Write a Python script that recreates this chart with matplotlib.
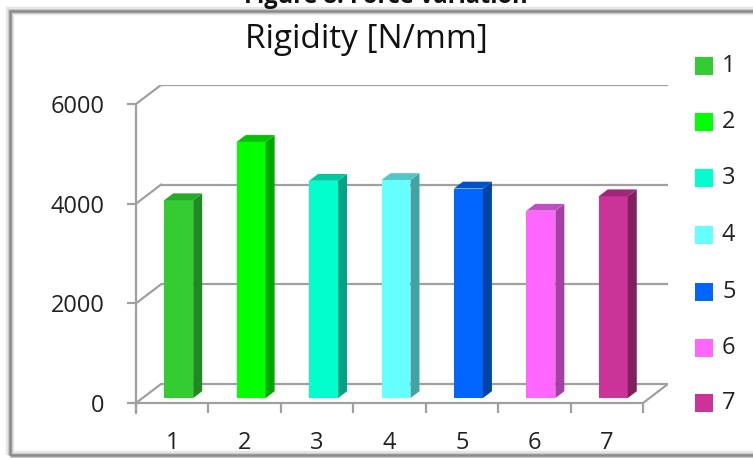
import matplotlib
matplotlib.use("Agg")
import matplotlib.pyplot as plt
from matplotlib.patches import Polygon, Rectangle

plt.rcParams['font.family'] = ['Open Sans', 'DejaVu Sans']

# ---- data ----
categories = ["1", "2", "3", "4", "5", "6", "7"]
rigidity = [3970, 5140, 4360, 4375, 4205, 3760, 4050]
yticks = [0, 2000, 4000, 6000]
title = "Rigidity [N/mm]"
caption = "Figure 8: Force variation"

front_colors = ["#33CC33", "#00FF00", "#00FFCC", "#66FFFF", "#0066FF", "#FF66FF", "#CC3399"]
side_colors = ["#228822", "#00A800", "#00A383", "#40A4A4", "#0044A8", "#A340A3", "#80205F"]
top_colors = ["#2AA82A", "#00C400", "#00C8A0", "#50C8C8", "#0052CC", "#C050C0", "#A02878"]

W, H = 753, 458
fig = plt.figure(figsize=(W / 100, H / 100), dpi=100)

def fx(px):
    return px / W

def fy(py):
    return 1 - py / H

# depth offsets in data units
DX = 0.345
DY = 381.0
F0 = 0.26   # bar front plane depth fraction
FB = 0.36   # bar depth fraction
BW = 0.40   # bar width
GRID = "#a0a0a0"

ax = fig.add_axes([fx(136), fy(403), (668 - 136) / W, (403 - 85) / H])
ax.set_xlim(0.5, 7.5 + DX)
ax.set_ylim(0, 6000 + DY)
ax.patch.set_alpha(0)

for s in ["top", "right"]:
    ax.spines[s].set_visible(False)
ax.spines["left"].set_bounds(-200, 6000)
ax.spines["left"].set_color(GRID)
ax.spines["left"].set_linewidth(1.6)
ax.spines["bottom"].set_bounds(0.5, 7.5)
ax.spines["bottom"].set_color(GRID)
ax.spines["bottom"].set_linewidth(1.6)

ax.set_yticks(yticks)
ax.set_yticklabels([str(v) for v in yticks], fontsize=17, color="#222222")
ax.tick_params(axis="y", direction="out", length=6.5, width=1.6, color=GRID, pad=16)

n = len(categories)
ax.set_xticks([i + 0.5 for i in range(n + 1)])
ax.set_xticklabels([""] * (n + 1))
ax.set_xticks(range(1, n + 1), minor=True)
ax.set_xticklabels(categories, minor=True, fontsize=17, color="#222222")
ax.tick_params(axis="x", which="major", direction="out", length=7, width=1.6, color=GRID)
ax.tick_params(axis="x", which="minor", length=0, pad=20)

# back wall gridlines and left wall diagonals
for v in yticks:
    ax.plot([0.5 + DX, 7.5 + DX], [v + DY, v + DY], color=GRID, lw=1.6, zorder=1, solid_capstyle="butt")
    ax.plot([0.5, 0.5 + DX], [v, v + DY], color=GRID, lw=1.6, zorder=1)
# floor right edge
ax.plot([7.5, 7.5 + DX], [0, DY], color=GRID, lw=1.6, zorder=1)

# bars (3D look)
xs = list(range(1, n + 1))
base = F0 * DY
ax.bar([x + F0 * DX for x in xs], rigidity, width=BW, bottom=base,
       color=front_colors, zorder=3, linewidth=0)
for x, v, sc, tc in zip(xs, rigidity, side_colors, top_colors):
    xl = x + F0 * DX - BW / 2
    xr = x + F0 * DX + BW / 2
    ddx, ddy = FB * DX, FB * DY
    side = Polygon([(xr, base), (xr + ddx, base + ddy), (xr + ddx, base + v + ddy), (xr, base + v)],
                   closed=True, facecolor=sc, edgecolor="none", zorder=3)
    top = Polygon([(xl, base + v), (xr, base + v), (xr + ddx, base + v + ddy), (xl + ddx, base + v + ddy)],
                  closed=True, facecolor=tc, edgecolor="none", zorder=3)
    ax.add_patch(side)
    ax.add_patch(top)

# title
fig.text(fx(366), fy(40), title, ha="center", va="center", fontsize=24, color="#111111")
# caption (cut at top)
fig.text(fx(386), fy(3), caption, ha="center", va="baseline", fontsize=17,
         fontweight="bold", color="#111111")

# legend (manual)
row_y = [66, 122, 178, 235, 292, 348, 403]
for lab, c, ry in zip(categories, front_colors, row_y):
    fig.patches.append(Rectangle((fx(695), fy(ry + 9)), 18 / W, 18 / H, transform=fig.transFigure,
                                 facecolor=c, edgecolor="none"))
    fig.text(fx(722), fy(ry), lab, ha="left", va="center", fontsize=17, color="#222222")

# outer chart border with slight shadow
for col, lw in [("#e6e6e6", 6), ("#c8c8c8", 3.5), ("#8c8c8c", 1.8)]:
    fig.patches.append(Rectangle((fx(10), fy(455)), (770 - 10) / W, (455 - 11) / H,
                                 transform=fig.transFigure, facecolor="none",
                                 edgecolor=col, linewidth=lw, zorder=0))

fig.savefig("out.png", dpi=100)
